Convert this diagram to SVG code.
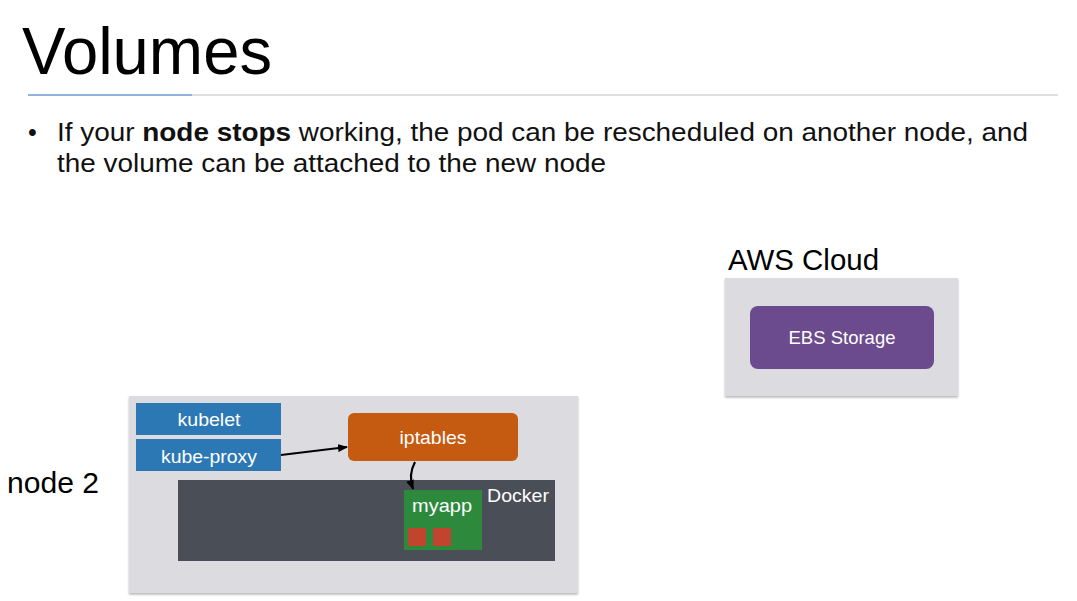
<svg xmlns="http://www.w3.org/2000/svg" width="1077" height="601" viewBox="0 0 1077 601">
<style>
text{font-family:"Liberation Sans",Arial,sans-serif}
.panel{fill:#dcdce0;filter:url(#sh)}
.lbl{fill:#fff;font-size:19px;text-anchor:middle}
.blue{fill:#2c78b4}
.conn{fill:none;stroke:#000;stroke-width:2.2;marker-end:url(#ah)}
</style>
<defs>
<filter id="sh" x="-5%" y="-5%" width="110%" height="115%">
<feDropShadow dx="0" dy="1.5" stdDeviation="1" flood-color="#000" flood-opacity="0.3"/>
</filter>
<marker id="ah" markerWidth="10" markerHeight="8" refX="9" refY="4" orient="auto" markerUnits="userSpaceOnUse">
<path d="M0,0 L10,4 L0,8 Z" fill="#000"/>
</marker>
</defs>
<rect width="1077" height="601" fill="#fff"/>
<text x="22" y="74" font-size="66" textLength="250" lengthAdjust="spacingAndGlyphs" fill="#000">Volumes</text>
<line x1="192" y1="95" x2="1058" y2="95" stroke="#d6d6d6" stroke-width="1.5"/>
<line x1="28" y1="95" x2="192" y2="95" stroke="#6d9bd4" stroke-width="1.5"/>
<text x="28" y="141" font-size="25" fill="#111">•</text>
<text x="57" y="141" font-size="25" fill="#111" textLength="971" lengthAdjust="spacingAndGlyphs">If your <tspan font-weight="bold">node stops</tspan> working, the pod can be rescheduled on another node, and</text>
<text x="57" y="172" font-size="25" fill="#111" textLength="549" lengthAdjust="spacingAndGlyphs">the volume can be attached to the new node</text>

<g id="aws">
<text x="728" y="270" font-size="29.5" fill="#000" textLength="151" lengthAdjust="spacingAndGlyphs">AWS Cloud</text>
<rect class="panel" x="725" y="278" width="233" height="118"/>
</g>
<g id="ebs">
<rect x="750" y="306" width="184" height="63" rx="8" fill="#6b4a8d"/>
<text class="lbl" x="842" y="344" textLength="107" lengthAdjust="spacingAndGlyphs">EBS Storage</text>
</g>

<g id="node2">
<text x="7" y="493" font-size="29" fill="#000" textLength="92" lengthAdjust="spacingAndGlyphs">node 2</text>
<rect class="panel" x="129" y="396" width="449" height="197"/>
</g>
<g id="kubelet">
<rect class="blue" x="136" y="403" width="145" height="32"/>
<text class="lbl" x="209" y="426" textLength="63" lengthAdjust="spacingAndGlyphs">kubelet</text>
</g>
<g id="kube-proxy">
<rect class="blue" x="136" y="439" width="145" height="32"/>
<text class="lbl" x="209" y="463" textLength="96" lengthAdjust="spacingAndGlyphs">kube-proxy</text>
</g>
<g id="iptables">
<rect x="348" y="413" width="170" height="48" rx="6" fill="#c55a11"/>
<text class="lbl" x="433" y="444" textLength="67" lengthAdjust="spacingAndGlyphs">iptables</text>
</g>
<g id="docker">
<rect x="178" y="480" width="377" height="81" fill="#4a4e57"/>
<text x="487" y="502" font-size="19" fill="#fff" textLength="62" lengthAdjust="spacingAndGlyphs">Docker</text>
</g>
<g id="myapp">
<rect x="404" y="490" width="78" height="60" fill="#2d8a3d"/>
<text class="lbl" x="442" y="512" textLength="60" lengthAdjust="spacingAndGlyphs">myapp</text>
<rect x="408" y="528" width="18" height="18" fill="#c0442e"/>
<rect x="433" y="528" width="18" height="18" fill="#c0442e"/>
</g>
<g id="connectors">
<path class="conn" d="M281,455 L347,447"/>
<path class="conn" d="M415,462 Q408,475 413,489"/>
</g>
</svg>
